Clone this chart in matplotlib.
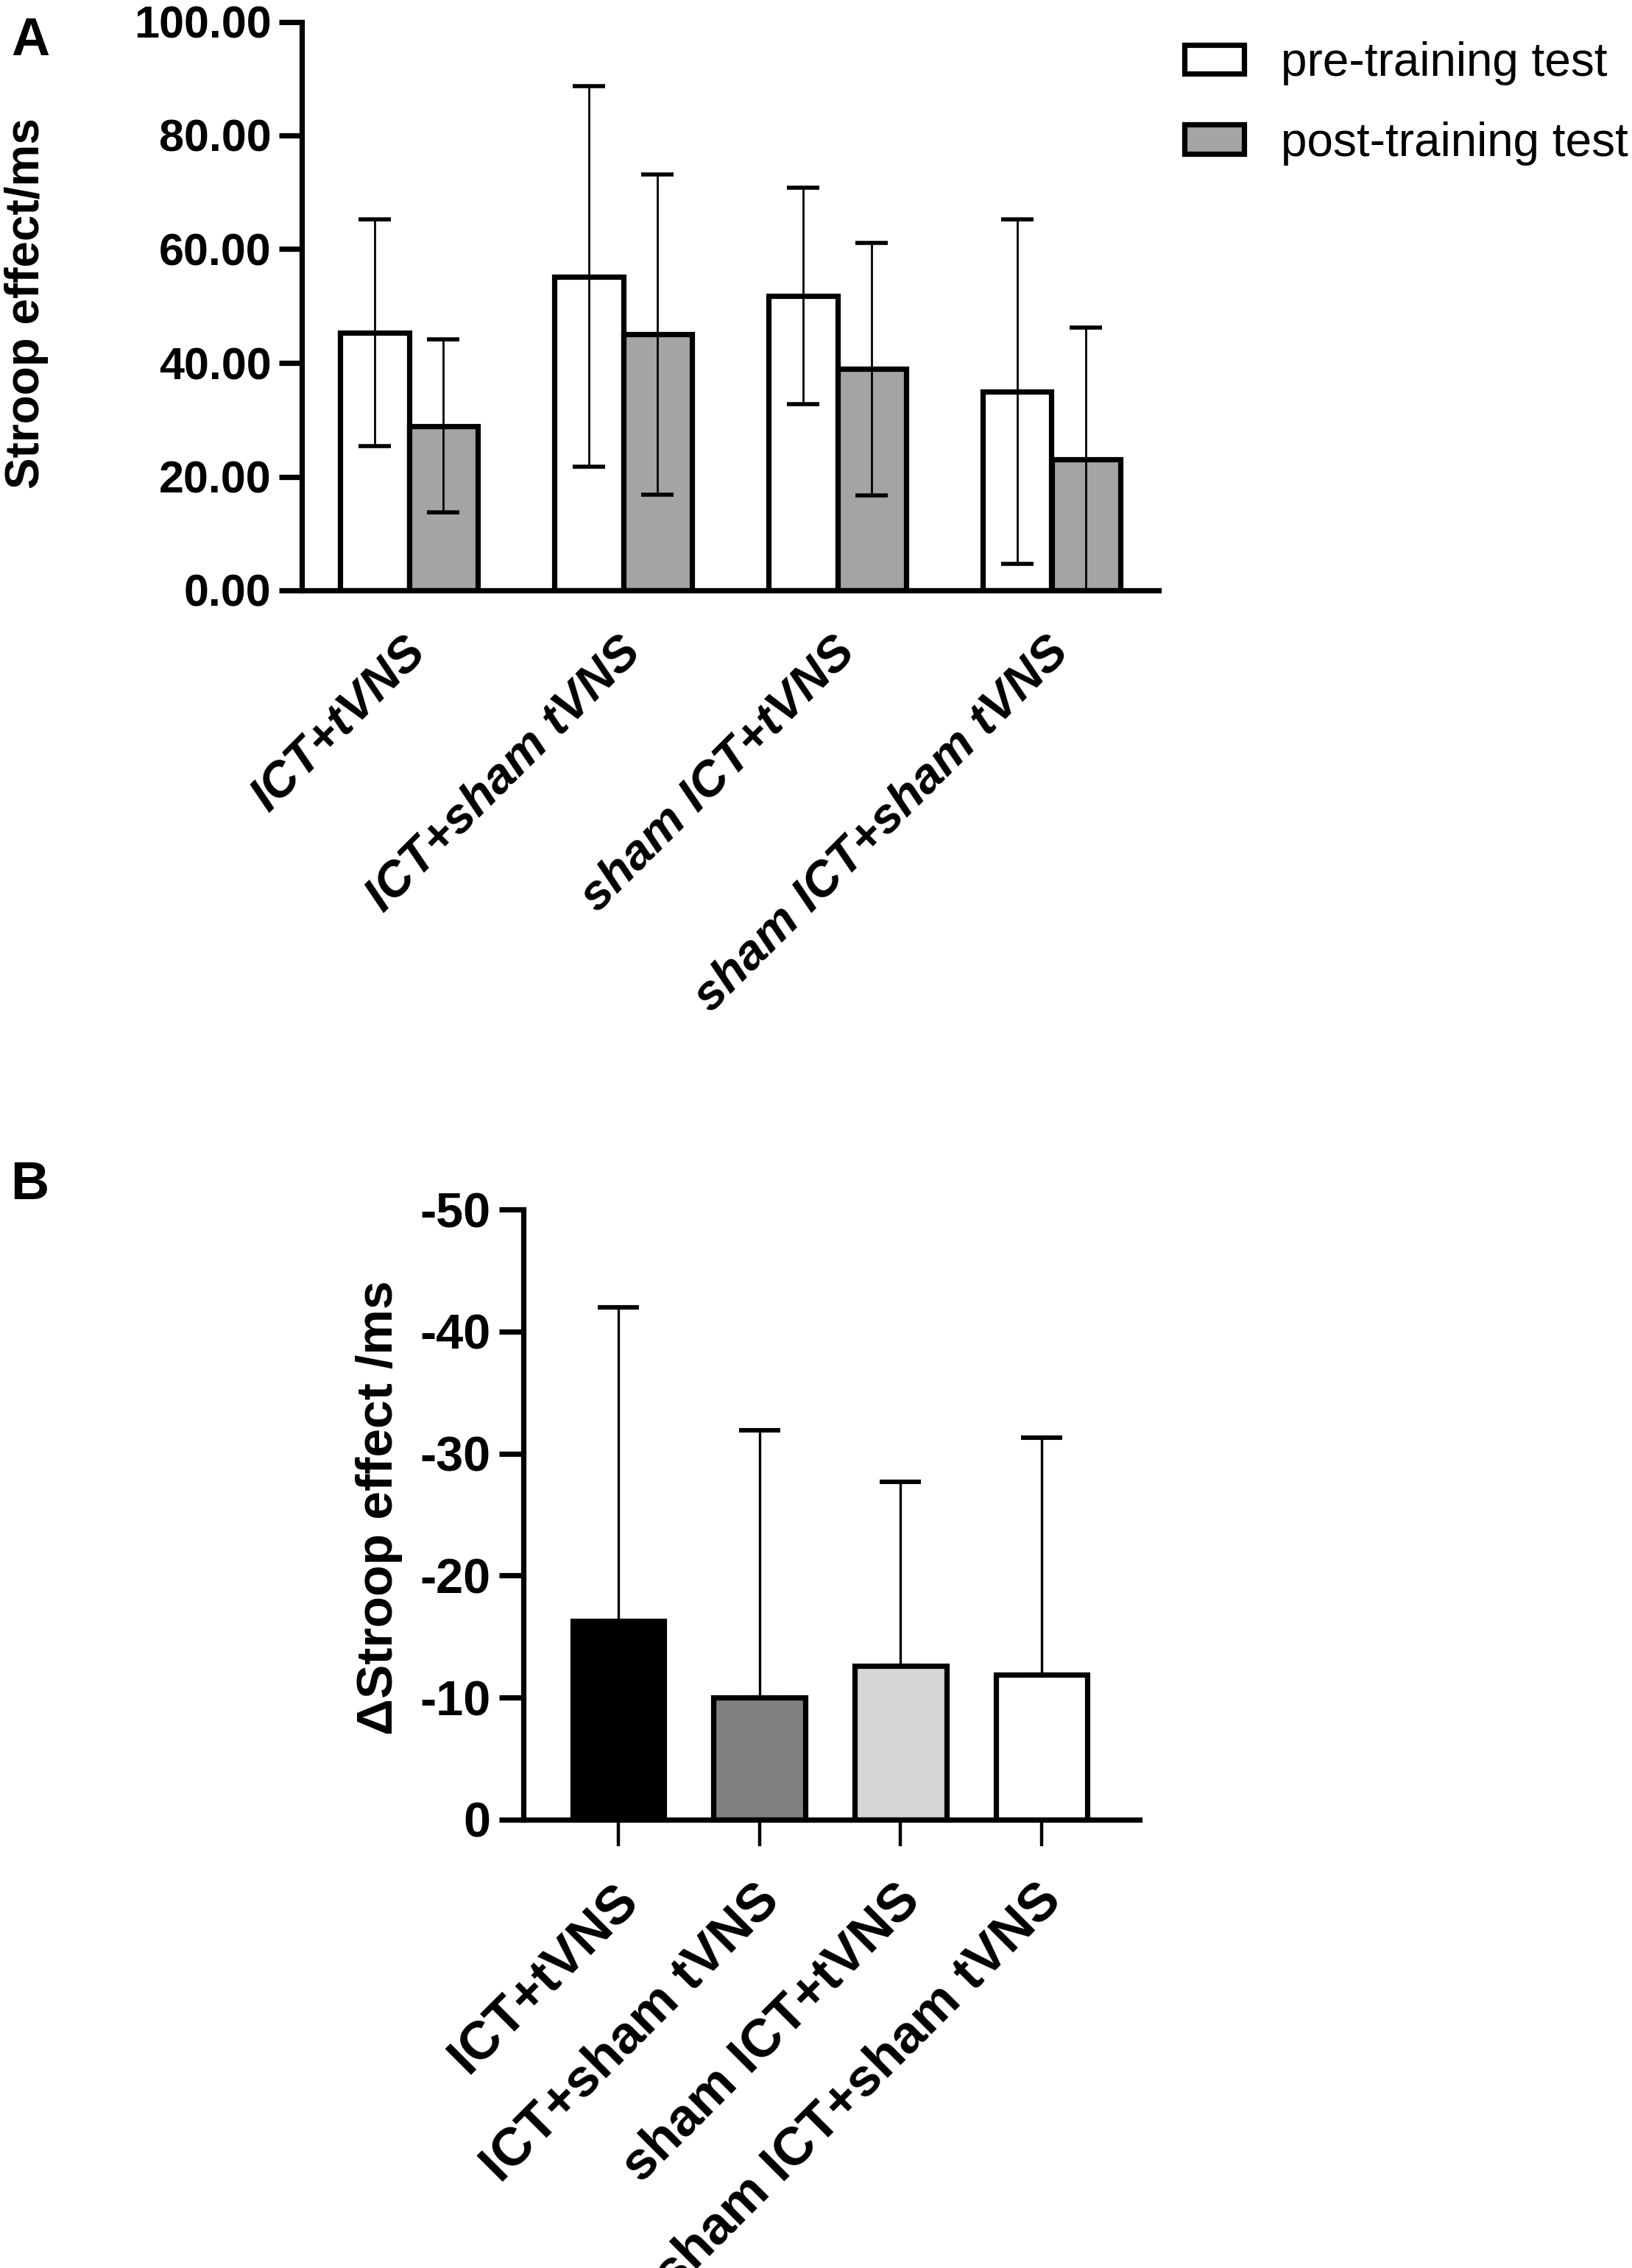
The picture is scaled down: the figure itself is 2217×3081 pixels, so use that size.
import matplotlib
matplotlib.use("Agg")
import matplotlib.pyplot as plt
import matplotlib.patches as mpatches
from matplotlib.transforms import ScaledTranslation
import numpy as np

plt.rcParams['font.family'] = ['Liberation Sans', 'DejaVu Sans']

# ---------------- data ----------------
groups = ["ICT+tVNS", "ICT+sham tVNS", "sham ICT+tVNS", "sham ICT+sham tVNS"]
pre_mean = [45.3, 55.2, 51.8, 35.0]
pre_err = [19.9, 33.5, 19.0, 30.3]
post_mean = [28.9, 45.0, 38.9, 23.0]
post_err = [15.2, 28.2, 22.2, 23.2]
series_labels = ["pre-training test", "post-training test"]

delta_mean = [-16.3, -10.0, -12.6, -11.9]
delta_err = [25.7, 21.9, 15.1, 19.4]

yticksA = [0, 20, 40, 60, 80, 100]
yticksB = [0, -10, -20, -30, -40, -50]

# ---------------- styles ----------------
W, H = 2217, 3081
DPI = 200
fig = plt.figure(figsize=(W / DPI, H / DPI), dpi=DPI)

spine_lw = 2.6
edge_lw = 2.6
post_color = "#a4a4a7"
b_colors = ["#000000", "#808080", "#d6d6d6", "#ffffff"]


def px2in(p):
    return p / DPI


# ---------------- panel A ----------------
axA = fig.add_axes([410 / W, 1 - 802 / H, 1164 / W, 772.5 / H])
x = np.arange(len(groups))
bw = 0.32
off = 0.16
axA.bar(x - off, pre_mean, bw, color="white", edgecolor="black",
        linewidth=edge_lw, zorder=2, label=series_labels[0])
axA.bar(x + off, post_mean, bw, color=post_color, edgecolor="black",
        linewidth=edge_lw, zorder=2, label=series_labels[1])
axA.errorbar(x - off, pre_mean, yerr=pre_err, fmt="none", ecolor="black",
             elinewidth=1.0, capsize=8, capthick=2.0, zorder=3)
axA.errorbar(x + off, post_mean, yerr=post_err, fmt="none", ecolor="black",
             elinewidth=1.0, capsize=8, capthick=2.0, zorder=3)

axA.set_xlim(-0.5, 3.5)
axA.set_ylim(0, 100)
axA.set_yticks(yticksA)
axA.set_yticklabels([f"{v:.2f}" for v in yticksA], fontsize=22, fontweight="bold")
axA.set_xticks(x)
axA.set_xticklabels(groups, rotation=45, ha="right", va="top",
                    rotation_mode="anchor", fontsize=24, fontweight="bold",
                    fontstyle="italic")
axA.tick_params(axis="y", length=11, width=spine_lw, pad=4)
axA.tick_params(axis="x", length=0, pad=19)
for lab in axA.get_xticklabels():
    lab.set_transform(lab.get_transform() +
                      ScaledTranslation(px2in(-8), 0, fig.dpi_scale_trans))
for s in ["top", "right"]:
    axA.spines[s].set_visible(False)
for s in ["left", "bottom"]:
    axA.spines[s].set_linewidth(spine_lw)
    axA.spines[s].set_capstyle("projecting")
axA.set_ylabel("Stroop effect/ms", fontsize=23, fontweight="bold", va="center")
axA.yaxis.set_label_coords((36 - 410) / 1164, 0.505)

handles = [mpatches.Patch(facecolor="white", edgecolor="black", linewidth=2.6),
           mpatches.Patch(facecolor=post_color, edgecolor="black", linewidth=2.6)]
fig.legend(handles, series_labels, loc="upper left",
           bbox_to_anchor=(1609 / W, 1 - 56 / H), frameon=False,
           fontsize=23, handlelength=1.27, handleheight=0.58,
           handletextpad=0.78, labelspacing=0.76, borderpad=0,
           borderaxespad=0)

# ---------------- panel B ----------------
axB = fig.add_axes([711 / W, 1 - 2472 / H, 837 / W, 829 / H])
xb = np.arange(len(groups))
axB.bar(xb, delta_mean, 0.65, color=b_colors, edgecolor="black",
        linewidth=edge_lw, zorder=2)
axB.errorbar(xb, delta_mean, yerr=[delta_err, [0] * len(delta_err)],
             fmt="none", ecolor="black", elinewidth=1.2, capsize=10,
             capthick=2.2, zorder=1)
axB.set_xlim(-0.673, 3.694)
axB.set_ylim(0, -50)
axB.set_yticks(yticksB)
axB.set_yticklabels([f"{v}" for v in yticksB], fontsize=24, fontweight="bold")
axB.set_xticks(xb)
axB.set_xticklabels(groups, rotation=45, ha="right", va="top",
                    rotation_mode="anchor", fontsize=26, fontweight="bold")
axB.tick_params(axis="y", length=12, width=spine_lw, pad=4)
axB.tick_params(axis="x", length=13, width=1.6, pad=14)
for lab in axB.get_xticklabels():
    lab.set_transform(lab.get_transform() +
                      ScaledTranslation(px2in(-8), 0, fig.dpi_scale_trans))
for s in ["top", "right"]:
    axB.spines[s].set_visible(False)
for s in ["left", "bottom"]:
    axB.spines[s].set_linewidth(spine_lw)
    axB.spines[s].set_capstyle("projecting")
axB.set_ylabel("ΔStroop effect /ms", fontsize=25, fontweight="bold", va="center")
axB.yaxis.set_label_coords((515 - 711) / 837, 0.511)

# panel letters
fig.text(15 / W, 1 - 22 / H, "A", fontsize=26, fontweight="bold", ha="left", va="top")
fig.text(14 / W, 1 - 1576 / H, "B", fontsize=26, fontweight="bold", ha="left", va="top")

fig.savefig("out.png", dpi=DPI, facecolor="white")
